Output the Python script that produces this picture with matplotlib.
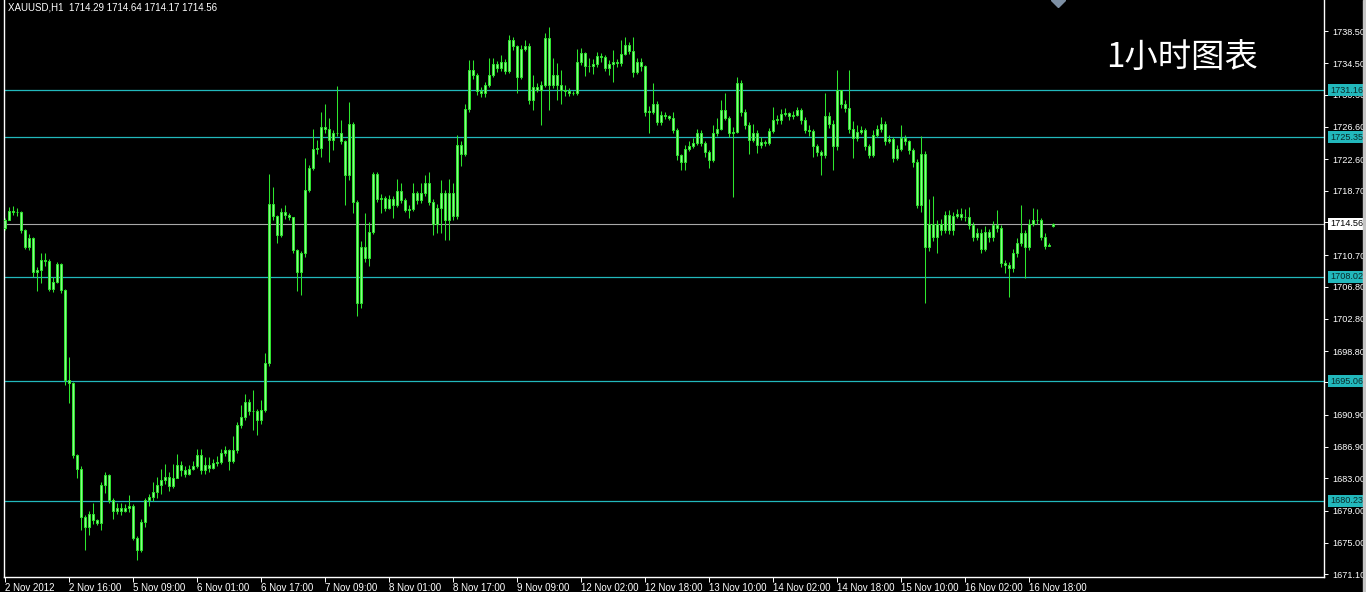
import matplotlib.pyplot as plt
from matplotlib.patches import Rectangle
from matplotlib.transforms import blended_transform_factory

plt.rcParams['font.family'] = ['Liberation Sans', 'DejaVu Sans']

# XAUUSD H1 candles, 2 Nov 2012 .. 16 Nov 2012 (open of each bar = previous close)
first_open = 1714.0
closes = [
    1715.0, 1716.2, 1716.0, 1716.1, 1713.8, 1711.7, 1712.8, 1708.6, 1708.9, 1710.1,
    1710.0, 1706.5, 1707.4, 1709.6, 1706.4, 1695.2, 1694.8, 1685.9, 1684.2, 1678.2,
    1677.0, 1678.6, 1677.8, 1677.4, 1682.2, 1683.4, 1680.3, 1678.9, 1679.3, 1678.9,
    1679.3, 1679.6, 1675.6, 1674.1, 1677.6, 1680.3, 1680.7, 1681.3, 1682.2, 1682.8,
    1683.2, 1682.0, 1683.1, 1684.6, 1684.0, 1683.6, 1684.2, 1684.5, 1685.9, 1684.0,
    1684.7, 1684.3, 1684.9, 1685.0, 1686.1, 1686.5, 1685.1, 1686.5, 1689.6, 1690.6,
    1692.5, 1691.3, 1691.3, 1690.2, 1691.5, 1697.3, 1717.1, 1715.5, 1713.2, 1716.0,
    1715.7, 1715.4, 1711.3, 1708.6, 1710.9, 1718.8, 1721.5, 1723.9, 1724.0, 1726.6,
    1726.3, 1725.0, 1725.8, 1725.8, 1724.8, 1720.6, 1727.0, 1717.3, 1704.7, 1711.7,
    1710.3, 1713.6, 1720.8, 1717.7, 1717.8, 1716.6, 1717.7, 1716.9, 1718.6, 1717.5,
    1716.3, 1716.4, 1718.4, 1717.5, 1718.4, 1719.7, 1717.3, 1714.6, 1716.5, 1718.4,
    1715.0, 1718.4, 1715.5, 1724.4, 1723.3, 1728.8, 1733.7, 1733.0, 1731.0, 1730.8,
    1731.8, 1733.0, 1734.4, 1733.9, 1734.7, 1733.5, 1737.4, 1736.6, 1732.8, 1736.3,
    1736.7, 1729.9, 1731.6, 1731.2, 1731.8, 1737.6, 1731.8, 1733.0, 1731.8, 1731.2,
    1731.0, 1730.8, 1730.8, 1734.7, 1735.8, 1734.1, 1734.1, 1734.4, 1735.4, 1735.3,
    1733.9, 1734.4, 1734.6, 1734.5, 1735.7, 1736.8, 1736.0, 1733.4, 1734.6, 1734.1,
    1728.5, 1728.5, 1729.5, 1727.2, 1728.1, 1728.0, 1727.7, 1726.2, 1723.1, 1722.3,
    1723.9, 1724.2, 1724.6, 1725.9, 1724.6, 1723.5, 1722.5, 1725.8, 1726.4, 1728.7,
    1727.7, 1725.8, 1726.0, 1732.0, 1728.5, 1726.8, 1725.0, 1725.8, 1724.4, 1724.7,
    1724.6, 1726.1, 1727.5, 1727.5, 1728.2, 1728.3, 1727.9, 1728.1, 1728.7, 1727.5,
    1726.2, 1726.1, 1724.2, 1723.5, 1723.1, 1727.9, 1727.0, 1724.2, 1731.2, 1729.5,
    1729.0, 1726.4, 1725.2, 1726.0, 1726.2, 1724.2, 1723.1, 1725.6, 1726.3, 1727.0,
    1724.8, 1725.1, 1722.7, 1723.9, 1725.2, 1724.8, 1723.7, 1722.2, 1716.9, 1723.3,
    1711.7, 1714.6, 1713.0, 1714.6, 1713.8, 1715.7, 1713.8, 1715.5, 1715.8, 1715.4,
    1715.4, 1714.4, 1713.0, 1713.4, 1711.5, 1713.6, 1713.0, 1714.4, 1714.0, 1709.7,
    1709.5, 1709.1, 1710.9, 1712.2, 1713.4, 1711.7, 1714.6, 1715.1, 1715.0, 1713.0,
    1711.8, 1712.0,
]
highs = [
    1715.3, 1716.7, 1716.8, 1716.5, 1716.2, 1713.9, 1713.3, 1712.9, 1709.2, 1711.0,
    1711.0, 1710.2, 1708.0, 1709.9, 1709.7, 1706.5, 1698.1, 1695.0, 1686.0, 1684.5,
    1678.5, 1679.0, 1680.0, 1677.9, 1682.5, 1683.8, 1683.6, 1680.5, 1680.0, 1680.0,
    1679.8, 1680.9, 1679.8, 1675.8, 1678.0, 1680.6, 1681.0, 1682.5, 1683.2, 1684.2,
    1684.8, 1683.8, 1684.8, 1686.0, 1685.2, 1684.5, 1684.6, 1685.2, 1686.6, 1686.6,
    1685.6, 1685.6, 1685.4, 1685.8, 1686.7, 1687.0, 1686.7, 1688.2, 1690.0, 1692.1,
    1693.5, 1692.8, 1694.0, 1691.6, 1692.7, 1698.5, 1720.8, 1719.2, 1715.7, 1716.5,
    1716.9, 1715.9, 1715.3, 1711.5, 1711.2, 1722.7, 1721.9, 1726.4, 1725.0, 1728.5,
    1729.5, 1727.7, 1726.2, 1731.7, 1727.5, 1725.0, 1729.7, 1727.2, 1717.5, 1712.5,
    1715.9, 1714.8, 1721.0, 1721.0, 1718.3, 1718.0, 1718.2, 1718.0, 1720.2, 1719.6,
    1717.8, 1716.9, 1719.6, 1718.6, 1719.6, 1720.6, 1721.0, 1717.6, 1717.0, 1720.0,
    1718.8, 1720.2, 1719.6, 1725.6, 1724.8, 1729.5, 1734.9, 1734.9, 1733.3, 1731.6,
    1732.2, 1735.2, 1735.1, 1734.8, 1735.5, 1735.0, 1738.0, 1737.8, 1736.8, 1736.8,
    1737.4, 1737.0, 1733.0, 1732.0, 1732.3, 1738.2, 1739.0, 1735.1, 1734.5, 1733.7,
    1731.8, 1731.4, 1731.1, 1736.3, 1736.4, 1735.9, 1735.1, 1735.0, 1735.9, 1735.8,
    1735.5, 1734.9, 1736.2, 1735.0, 1737.4, 1737.8, 1737.2, 1737.8, 1735.2, 1735.1,
    1734.3, 1729.2, 1732.0, 1729.8, 1728.6, 1728.5, 1728.1, 1728.5, 1726.5, 1723.3,
    1724.4, 1724.8, 1725.2, 1726.4, 1726.2, 1724.9, 1723.8, 1726.8, 1727.7, 1729.9,
    1730.8, 1728.0, 1726.6, 1732.8, 1732.4, 1728.8, 1727.2, 1727.0, 1726.2, 1725.3,
    1725.0, 1726.5, 1729.1, 1728.1, 1728.8, 1728.9, 1728.5, 1728.6, 1729.1, 1729.0,
    1727.8, 1726.8, 1726.3, 1724.5, 1723.8, 1730.8, 1728.4, 1727.5, 1733.7, 1730.5,
    1730.0, 1733.7, 1727.3, 1726.8, 1726.7, 1726.5, 1724.5, 1726.2, 1726.9, 1727.8,
    1727.3, 1725.6, 1725.3, 1724.3, 1726.8, 1725.6, 1725.0, 1724.0, 1722.6, 1725.5,
    1723.6, 1717.7, 1718.0, 1715.0, 1715.2, 1716.2, 1716.3, 1716.0, 1716.4, 1716.6,
    1716.4, 1716.7, 1714.8, 1714.0, 1713.9, 1714.3, 1713.9, 1714.9, 1716.3, 1714.4,
    1710.1, 1709.8, 1711.4, 1712.8, 1716.9, 1713.8, 1715.2, 1716.5, 1716.4, 1715.3,
    1713.4, 1712.2,
]
lows = [
    1713.8, 1715.0, 1715.7, 1715.6, 1713.4, 1711.5, 1711.3, 1708.0, 1706.2, 1707.2,
    1709.3, 1706.2, 1706.1, 1707.2, 1706.0, 1694.6, 1692.3, 1685.5, 1683.0, 1676.6,
    1674.1, 1676.0, 1677.3, 1677.2, 1676.6, 1681.2, 1680.0, 1678.0, 1678.6, 1678.4,
    1678.8, 1678.8, 1675.3, 1672.9, 1673.8, 1677.0, 1679.6, 1680.2, 1680.6, 1681.0,
    1682.3, 1681.4, 1681.8, 1683.1, 1683.3, 1683.2, 1683.4, 1684.0, 1684.3, 1683.6,
    1683.6, 1683.8, 1684.2, 1684.5, 1684.8, 1685.8, 1684.0, 1684.9, 1686.2, 1689.2,
    1690.3, 1690.9, 1689.0, 1688.4, 1689.8, 1691.2, 1697.0, 1715.0, 1712.2, 1713.0,
    1715.2, 1715.0, 1711.0, 1706.2, 1705.7, 1710.5, 1718.5, 1721.2, 1723.3, 1722.9,
    1725.9, 1722.3, 1723.7, 1725.5, 1724.5, 1716.9, 1720.0, 1715.9, 1703.1, 1704.1,
    1709.9, 1709.3, 1713.3, 1717.3, 1715.9, 1716.2, 1716.4, 1715.3, 1716.7, 1717.2,
    1716.0, 1715.3, 1716.2, 1717.0, 1717.2, 1718.0, 1716.9, 1713.2, 1713.4, 1713.4,
    1712.6, 1712.6, 1715.0, 1715.2, 1721.7, 1723.0, 1728.5, 1732.6, 1730.6, 1730.3,
    1730.3, 1731.6, 1732.8, 1733.4, 1733.6, 1733.2, 1733.3, 1736.2, 1730.8, 1732.5,
    1736.0, 1729.5, 1728.7, 1730.9, 1726.8, 1731.5, 1728.7, 1731.4, 1730.0, 1729.5,
    1730.5, 1730.5, 1730.6, 1730.6, 1734.3, 1732.9, 1733.4, 1733.2, 1734.0, 1734.6,
    1733.5, 1733.1, 1732.2, 1734.0, 1734.2, 1735.5, 1735.6, 1732.8, 1733.2, 1733.6,
    1728.0, 1725.8, 1728.2, 1726.8, 1726.8, 1727.6, 1727.4, 1725.9, 1722.5, 1721.3,
    1721.3, 1723.6, 1724.0, 1724.3, 1724.2, 1722.9, 1721.5, 1722.2, 1725.5, 1726.2,
    1727.4, 1725.4, 1717.9, 1725.8, 1728.0, 1726.3, 1723.3, 1724.7, 1723.4, 1724.0,
    1724.2, 1724.3, 1725.8, 1727.0, 1727.0, 1727.9, 1727.5, 1727.6, 1727.9, 1727.0,
    1725.8, 1725.5, 1722.9, 1723.0, 1720.6, 1722.8, 1726.5, 1721.3, 1723.8, 1729.0,
    1728.4, 1725.9, 1722.7, 1724.8, 1725.7, 1723.8, 1722.7, 1722.9, 1725.3, 1726.0,
    1724.4, 1724.6, 1722.3, 1722.5, 1723.6, 1724.4, 1723.3, 1721.6, 1716.5, 1716.0,
    1704.7, 1711.2, 1712.4, 1711.0, 1713.2, 1713.4, 1713.3, 1713.2, 1715.3, 1715.0,
    1714.9, 1713.9, 1712.5, 1712.6, 1710.9, 1711.2, 1712.3, 1712.4, 1713.6, 1709.2,
    1708.5, 1705.5, 1708.6, 1710.5, 1711.8, 1707.8, 1711.3, 1714.3, 1714.6, 1712.6,
    1711.4, 1711.8,
]
# current (last) bar: open, high, low, close
last_bar = [1714.29, 1714.64, 1714.17, 1714.56]

levels = [1731.16, 1725.35, 1708.02, 1695.06, 1680.23]
bid = 1714.56
price_ticks = [1738.50, 1734.50, 1730.60, 1726.60, 1722.60, 1718.70, 1714.80,
               1710.70, 1706.80, 1702.80, 1698.80, 1694.90, 1690.90, 1686.90,
               1683.00, 1679.00, 1675.00, 1671.10]
time_labels = ["2 Nov 2012", "2 Nov 16:00", "5 Nov 09:00", "6 Nov 01:00", "6 Nov 17:00",
               "7 Nov 09:00", "8 Nov 01:00", "8 Nov 17:00", "9 Nov 09:00", "12 Nov 02:00",
               "12 Nov 18:00", "13 Nov 10:00", "14 Nov 02:00", "14 Nov 18:00",
               "15 Nov 10:00", "16 Nov 02:00", "16 Nov 18:00"]
bars_per_label = 16

opens = [first_open] + closes[:-1] + [last_bar[0]]
highs = highs + [last_bar[1]]
lows = lows + [last_bar[2]]
closes = closes + [last_bar[3]]

GREEN = '#2ee62e'
FILL = '#8cf78c'
CYAN = '#22b8bc'

fig = plt.figure(figsize=(13.66, 5.92), dpi=100, facecolor='black')
ax = fig.add_axes([4 / 1366, 15 / 592, 1320 / 1366, 577 / 592])
ax.set_facecolor('black')

x = list(range(len(closes)))
hi = [max(h, o, c) for h, o, c in zip(highs, opens, closes)]
lo = [min(l, o, c) for l, o, c in zip(lows, opens, closes)]
ax.vlines(x, lo, hi, color=GREEN, lw=0.75, zorder=3)
bottoms = [min(o, c) for o, c in zip(opens, closes)]
heights = [max(abs(c - o), 0.06) for o, c in zip(opens, closes)]
ax.bar(x, heights, bottom=bottoms, width=0.55, color=FILL, edgecolor=GREEN,
       linewidth=0.7, zorder=4)

for lv in levels:
    ax.axhline(lv, color=CYAN, lw=0.9, zorder=2)
ax.axhline(bid, color='#a8a8a8', lw=0.8, zorder=2)

ax.set_xlim(-0.15, 329.85)
ax.set_ylim(1670.76, 1742.35)

for side in ['left', 'right', 'bottom']:
    ax.spines[side].set_color('white')
    ax.spines[side].set_linewidth(1.0)
ax.spines['top'].set_visible(False)

ax.yaxis.tick_right()
ax.set_yticks(price_ticks)
ax.set_yticklabels([f"{t:.2f}" for t in price_ticks])
ax.tick_params(axis='y', colors='white', length=3, width=0.7, pad=3, labelsize=6.6)

ax.set_xticks([i * bars_per_label for i in range(len(time_labels))])
ax.set_xticklabels(time_labels, ha='left')
ax.tick_params(axis='x', colors='white', length=3.5, width=0.7, pad=0.5, labelsize=7)

trans = blended_transform_factory(ax.transAxes, ax.transData)
for lv in levels:
    ax.text(1.0045, lv, f"{lv:.2f}", transform=trans, fontsize=6.6, color='#0a2a2a',
            va='center', ha='left', clip_on=False, zorder=6,
            bbox=dict(boxstyle='square,pad=0.18', fc=CYAN, ec='none'))
ax.text(1.0045, bid, f"{bid:.2f}", transform=trans, fontsize=6.6, color='black',
        va='center', ha='left', clip_on=False, zorder=6,
        bbox=dict(boxstyle='square,pad=0.18', fc='white', ec='none'))

ax.plot([263.35], [1742.35], marker='D', ms=7, color='#7d8fa3', zorder=5)

fig.text(8 / 1366, 1 - 7 / 592, "XAUUSD,H1  1714.29 1714.64 1714.17 1714.56",
         color='white', fontsize=7, va='center', ha='left')
fig.text(1182 / 1366, 1 - 58 / 592, "1小时图表", color='white', fontsize=24,
         va='center', ha='center', family=['Noto Sans CJK SC', 'DejaVu Sans'])

fig.patches.append(Rectangle((1363 / 1366, 0), 3 / 1366, 1, transform=fig.transFigure,
                             color='#c4c4c4', zorder=0))

fig.savefig('out.png', dpi=100, facecolor='black')
